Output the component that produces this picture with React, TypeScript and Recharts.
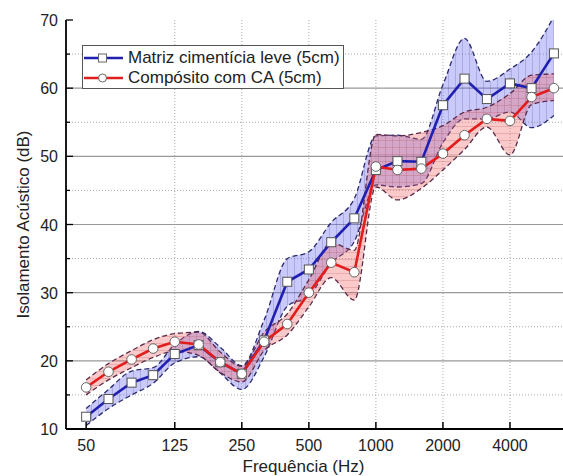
import React from 'react';
import { ComposedChart, Line, Area, XAxis, YAxis, CartesianGrid } from 'recharts';

const freqs = [50, 63, 80, 100, 125, 160, 200, 250, 315, 400, 500, 630, 800, 1000, 1250, 1600, 2000, 2500, 3150, 4000, 5000, 6300];

const blueMean = [11.8, 14.4, 16.8, 17.9, 21.0, 22.3, 19.8, 18.1, 23.0, 31.6, 33.4, 37.4, 40.9, 48.0, 49.3, 49.2, 57.5, 61.4, 58.4, 60.7, 60.0, 65.1];
const blueLo = [10.5, 13.0, 15.0, 16.7, 19.7, 20.6, 18.2, 15.8, 20.6, 28.0, 29.5, 34.3, 37.5, 45.8, 45.5, 46.0, 52.0, 55.5, 55.5, 56.5, 54.2, 56.0];
const blueHi = [13.0, 15.8, 18.5, 19.0, 22.4, 24.3, 22.0, 19.3, 26.0, 35.0, 36.0, 40.3, 43.8, 53.0, 53.1, 52.5, 60.5, 67.3, 61.0, 62.8, 65.3, 70.5];

const redMean = [16.1, 18.4, 20.2, 21.8, 22.8, 22.4, 19.8, 18.1, 22.8, 25.4, 30.0, 34.4, 33.0, 48.5, 48.0, 48.2, 50.4, 53.1, 55.5, 55.2, 58.7, 60.0];
const redLo = [15.0, 17.2, 19.0, 20.5, 21.4, 20.8, 18.3, 16.9, 21.5, 23.8, 27.9, 32.2, 28.9, 45.5, 43.6, 45.3, 48.0, 51.0, 54.3, 50.2, 57.6, 58.2];
const redHi = [17.2, 19.6, 21.5, 23.1, 24.0, 24.2, 21.3, 19.2, 24.2, 26.9, 31.9, 37.3, 36.2, 53.2, 53.0, 53.5, 54.5, 56.5, 57.2, 59.2, 61.9, 62.1];

const xTicks = [50, 125, 250, 500, 1000, 2000, 4000];
const xGrid = [125, 250, 500, 1000, 2000, 4000];
const yTicks = [10, 15, 20, 25, 30, 35, 40, 45, 50, 55, 60, 65, 70];
const yMajorGrid = [20, 30, 40, 50, 60];
const yMinorGrid = [15, 25, 35, 45, 55, 65];

const seriesNames = ['Matriz cimentícia leve (5cm)', 'Compósito com CA (5cm)'];
const xTitle = 'Frequência (Hz)';
const yTitle = 'Isolamento Acústico (dB)';

const BLUE = '#1f1fb0';
const RED = '#e31c1c';
const FONT = 'Arial, "Liberation Sans", sans-serif';

const data = freqs.map((f, i) => ({
  f,
  b: blueMean[i],
  bl: blueLo[i],
  bh: blueHi[i],
  r: redMean[i],
  rl: redLo[i],
  rh: redHi[i],
}));

const XTickBottom = (props: any) => {
  const { x, y, payload } = props;
  return (
    <g>
      <line x1={x} x2={x} y1={y} y2={y - 7} stroke="#000" strokeWidth={1.5} />
      <text x={x} y={y + 22} textAnchor="middle" fontSize={16} fontFamily={FONT} fill="#222">
        {payload.value}
      </text>
    </g>
  );
};

const XTickTop = (props: any) => {
  const { x, y } = props;
  return <line x1={x} x2={x} y1={y} y2={y + 7} stroke="#000" strokeWidth={1.5} />;
};

const YTick = (props: any) => {
  const { x, y, payload } = props;
  const major = payload.value % 10 === 0;
  return (
    <g>
      <line x1={x} x2={x + (major ? 7 : 4)} y1={y} y2={y} stroke="#000" strokeWidth={1.3} />
      {major && (
        <text x={x - 8} y={y + 6} textAnchor="end" fontSize={16} fontFamily={FONT} fill="#222">
          {payload.value}
        </text>
      )}
    </g>
  );
};

const SquareDot = (props: any) => {
  const { cx, cy, index } = props;
  if (cx == null || cy == null) return <g key={`s${index}`} />;
  return (
    <rect key={`s${index}`} x={cx - 4.5} y={cy - 4.5} width={9} height={9} fill="#fff" stroke="#555" strokeWidth={1} />
  );
};

const CircleDot = (props: any) => {
  const { cx, cy, index } = props;
  if (cx == null || cy == null) return <g key={`c${index}`} />;
  return <circle key={`c${index}`} cx={cx} cy={cy} r={4.8} fill="#fff" stroke="#666" strokeWidth={1} />;
};

const LegendBox = () => (
  <div
    style={{
      position: 'absolute',
      left: 82,
      top: 45,
      width: 262,
      height: 44,
      background: '#fff',
      border: '1px solid #555',
      fontFamily: FONT,
      fontSize: 17,
      color: '#222',
      boxSizing: 'border-box',
    }}
  >
    {seriesNames.map((name, i) => (
      <div key={name} style={{ position: 'absolute', left: 0, top: i === 0 ? 2 : 22, height: 20, display: 'flex', alignItems: 'center', whiteSpace: 'nowrap' }}>
        <svg width={44} height={20} style={{ display: 'block' }}>
          <line x1={1} x2={40} y1={10} y2={10} stroke={i === 0 ? BLUE : RED} strokeWidth={2.5} />
          {i === 0 ? (
            <rect x={15.5} y={6} width={8} height={8} fill="#fff" stroke="#666" strokeWidth={1} />
          ) : (
            <circle cx={19.5} cy={10} r={4} fill="#fff" stroke="#666" strokeWidth={1} />
          )}
        </svg>
        <span style={{ marginLeft: 1 }}>{name}</span>
      </div>
    ))}
  </div>
);

export default function App() {
  return (
    <div style={{ position: 'absolute', left: 0, top: 0, width: 563, height: 476, background: '#fff' }}>
      <ComposedChart width={563} height={476} data={data} margin={{ top: 20, right: 0, left: 0, bottom: 0 }}>
        <defs>
          <pattern id="hatchBlue" width="7" height="7" patternUnits="userSpaceOnUse">
            <rect width="7" height="7" fill="rgba(100,100,240,0.34)" />
            <line x1="0.5" y1="0" x2="0.5" y2="7" stroke="rgba(60,60,150,0.22)" strokeWidth="1" />
          </pattern>
          <pattern id="hatchRed" width="7" height="7" patternUnits="userSpaceOnUse">
            <rect width="7" height="7" fill="rgba(240,90,90,0.32)" />
            <line x1="0" y1="0.5" x2="7" y2="0.5" stroke="rgba(170,60,60,0.2)" strokeWidth="1" />
          </pattern>
        </defs>
        <CartesianGrid horizontalValues={yMinorGrid} verticalValues={xGrid} stroke="#aaa" strokeDasharray="1 2" />
        <CartesianGrid horizontalValues={yMajorGrid} vertical={false} stroke="#999" strokeWidth={1.2} />
        <XAxis
          dataKey="f"
          type="number"
          scale="log"
          domain={[40.6, 6920]}
          allowDataOverflow
          ticks={xTicks}
          tick={<XTickBottom />}
          tickLine={false}
          tickSize={0}
          tickMargin={0}
          height={47}
          axisLine={{ stroke: '#000', strokeWidth: 1.8 }}
          interval={0}
          label={{
            content: (p: any) => {
              const vb = p.viewBox;
              return (
                <text x={vb.x + vb.width / 2 - 11} y={vb.y + 43} textAnchor="middle" fontSize={17} fontFamily={FONT} fill="#222">
                  {xTitle}
                </text>
              );
            },
          }}
        />
        <XAxis
          xAxisId="top"
          orientation="top"
          dataKey="f"
          type="number"
          scale="log"
          domain={[40.6, 6920]}
          allowDataOverflow
          ticks={xTicks}
          tick={<XTickTop />}
          tickLine={false}
          tickSize={0}
          tickMargin={0}
          height={0}
          interval={0}
          axisLine={{ stroke: '#000', strokeWidth: 1.8 }}
        />
        <YAxis
          type="number"
          domain={[10, 70]}
          allowDataOverflow
          ticks={yTicks}
          tick={<YTick />}
          tickLine={false}
          tickSize={0}
          tickMargin={0}
          width={66}
          interval={0}
          axisLine={{ stroke: '#000', strokeWidth: 1.8 }}
          label={{
            content: (p: any) => {
              const vb = p.viewBox;
              const cx = 23;
              const cy = vb.y + vb.height / 2;
              return (
                <text x={cx} y={cy} transform={`rotate(-90 ${cx} ${cy})`} textAnchor="middle" dominantBaseline="central" fontSize={17} fontFamily={FONT} fill="#222">
                  {yTitle}
                </text>
              );
            },
          }}
        />
        <Area
          dataKey={(d: any) => [d.bl, d.bh]}
          type="monotone"
          fill="url(#hatchBlue)"
          fillOpacity={1}
          stroke="#2a2a6e"
          strokeWidth={1.3}
          strokeDasharray="5 3"
          dot={false}
          activeDot={false}
          isAnimationActive={false}
        />
        <Area
          dataKey={(d: any) => [d.rl, d.rh]}
          type="monotone"
          fill="url(#hatchRed)"
          fillOpacity={1}
          stroke="#5a2a4a"
          strokeWidth={1.3}
          strokeDasharray="5 3"
          dot={false}
          activeDot={false}
          isAnimationActive={false}
        />
        <Line dataKey="b" type="linear" stroke={BLUE} strokeWidth={2.6} dot={SquareDot} activeDot={false} isAnimationActive={false} />
        <Line dataKey="r" type="linear" stroke={RED} strokeWidth={2.6} dot={CircleDot} activeDot={false} isAnimationActive={false} />
      </ComposedChart>
      <LegendBox />
    </div>
  );
}
